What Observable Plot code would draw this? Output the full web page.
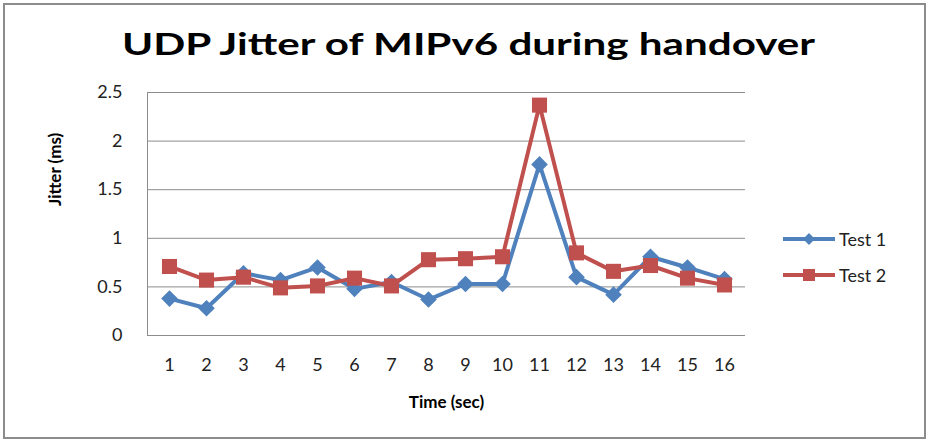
<!DOCTYPE html>
<html>
<head>
<meta charset="utf-8">
<script src="https://cdn.jsdelivr.net/npm/d3@7"></script>
<script src="https://cdn.jsdelivr.net/npm/@observablehq/plot@0.6"></script>
<style>
  html, body { margin: 0; padding: 0; background: #fff; }
  #wrap { position: relative; width: 928px; height: 442px; overflow: hidden; font-family: Lato, "Open Sans", sans-serif; }
  #border { position: absolute; left: 3px; top: 3px; width: 919px; height: 432px; border: 2px solid #8c8c8c; }
  #title { position: absolute; left: 0; top: 0; }
  #chart { position: absolute; left: 0; top: 0; }
  .leg { position: absolute; left: 783px; height: 24px; display: flex; align-items: center; font-size: 18px; color: #222; }
  .leg svg { display: block; margin-right: 3px; }
</style>
</head>
<body>
<div id="wrap">
  <div id="border"></div>
  <svg id="title" width="928" height="70">
    <text x="122" y="55" font-family="Lato, 'Open Sans', sans-serif" font-weight="bold" font-size="31" fill="#000" textLength="693" lengthAdjust="spacingAndGlyphs">UDP Jitter of MIPv6 during handover</text>
  </svg>
  <div id="chart"></div>
  <div id="legend"></div>
</div>
<script>
const times = [1, 2, 3, 4, 5, 6, 7, 8, 9, 10, 11, 12, 13, 14, 15, 16];
const test1 = [0.38, 0.28, 0.64, 0.57, 0.70, 0.48, 0.55, 0.37, 0.53, 0.53, 1.76, 0.60, 0.42, 0.81, 0.70, 0.58];
const test2 = [0.71, 0.57, 0.60, 0.49, 0.51, 0.59, 0.51, 0.78, 0.79, 0.81, 2.37, 0.85, 0.66, 0.72, 0.59, 0.52];
const yTicks = [0, 0.5, 1, 1.5, 2, 2.5];
const seriesNames = ["Test 1", "Test 2"];
const colors = ["#4F81BD", "#C0504D"];

const d1 = times.map((t, i) => ({t, v: test1[i]}));
const d2 = times.map((t, i) => ({t, v: test2[i]}));

const chart = Plot.plot({
  width: 928,
  height: 442,
  marginLeft: 147,
  marginRight: 183,
  marginTop: 92,
  marginBottom: 107,
  style: {fontFamily: "Lato, 'Open Sans', sans-serif", background: "transparent", color: "#222"},
  x: {type: "point", domain: times, padding: 0.5},
  y: {domain: [0, 2.5]},
  marks: [
    Plot.ruleY(yTicks, {stroke: "#8c8c8c", strokeWidth: 1}),
    Plot.frame({anchor: "left", stroke: "#8c8c8c"}),
    Plot.axisY({ticks: yTicks, tickSize: 0, tickPadding: 25, fontSize: 18, tickFormat: d => String(d), label: null}),
    Plot.axisX({tickSize: 0, tickPadding: 23, fontSize: 18, label: null}),
    Plot.text(["Time (sec)"], {frameAnchor: "bottom", dy: 72, fontWeight: "bold", fontSize: 17, fill: "#000"}),
    Plot.text(["Jitter (ms)"], {frameAnchor: "left", dx: -92, dy: -8, rotate: -90, fontWeight: "bold", fontSize: 17, fill: "#000"}),
    Plot.line(d1, {x: "t", y: "v", stroke: colors[0], strokeWidth: 4}),
    Plot.dot(d1, {x: "t", y: "v", symbol: "diamond2", r: 7.5, fill: colors[0], stroke: "none"}),
    Plot.line(d2, {x: "t", y: "v", stroke: colors[1], strokeWidth: 4}),
    Plot.dot(d2, {x: "t", y: "v", symbol: "square", r: 8.5, fill: colors[1], stroke: "none"})
  ]
});
document.getElementById("chart").appendChild(chart);

// legend
const legend = document.getElementById("legend");
const legTops = [227, 263];
seriesNames.forEach((name, i) => {
  const row = document.createElement("div");
  row.className = "leg";
  row.style.top = legTops[i] + "px";
  const marker = i === 0
    ? `<path d="M26,6 L32,12 L26,18 L20,12 Z" fill="${colors[0]}"/>`
    : `<rect x="20" y="6" width="12" height="12" fill="${colors[1]}"/>`;
  row.innerHTML = `<svg width="53" height="24"><line x1="0" x2="52" y1="12" y2="12" stroke="${colors[i]}" stroke-width="4"/>${marker}</svg><span>${name}</span>`;
  legend.appendChild(row);
});
</script>
</body>
</html>
